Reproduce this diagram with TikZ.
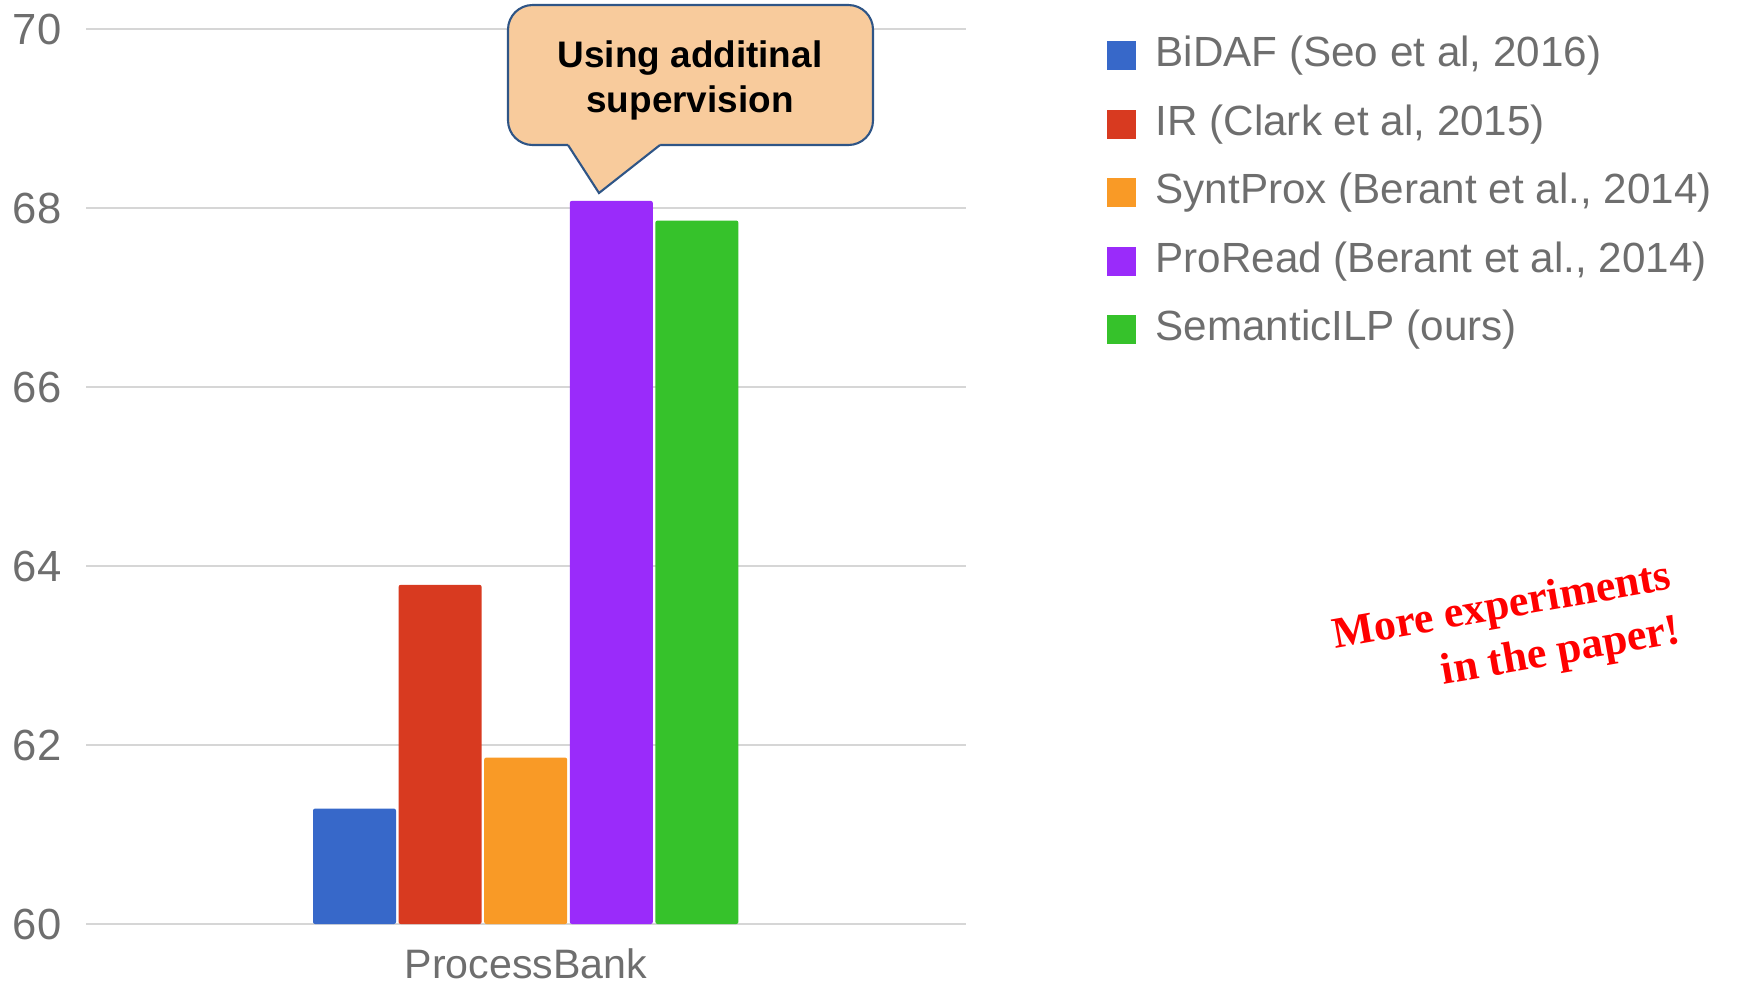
\documentclass[tikz,border=0pt]{standalone}
\usepackage{fontspec}
\setmainfont{Liberation Sans}
\newfontfamily\paperfont{Liberation Serif}
\usetikzlibrary{positioning}

\definecolor{cBidaf}{HTML}{3768C9}
\definecolor{cIr}{HTML}{D83A20}
\definecolor{cSynt}{HTML}{F99A26}
\definecolor{cProread}{HTML}{9A2BFA}
\definecolor{cSilp}{HTML}{36C22B}
\definecolor{gridgray}{HTML}{D6D6D6}
\definecolor{axisgray}{HTML}{6E6E6E}
\definecolor{notefill}{HTML}{F8CB9C}
\definecolor{noteline}{HTML}{2F5586}

\begin{document}
\begin{tikzpicture}[x=0.01cm, y=-0.01cm,
        gridline/.style={draw=gridgray, line width=0.5pt},
        ticklabel/.style={anchor=east, inner sep=0pt, text=axisgray, font=\fontsize{12.4}{14}\selectfont},
        keytext/.style={anchor=west, inner sep=0pt, text=axisgray, font=\fontsize{12}{14}\selectfont},
        notebox/.style={fill=notefill, draw=noteline, line width=0.6pt}
    ]
    \useasboundingbox (0,0) rectangle (1737,984);

    % --- axis and grid ---
    \foreach \v [count=\i from 0] in {60,62,...,70} {
        \pgfmathsetmacro{\yy}{924-\i*179}
        \draw[gridline] (86,\yy) -- (966,\yy);
        \node[ticklabel] (tick\v) at (62,\yy) {\v};
    }

    % --- bars ---
    \foreach \c/\v [count=\i from 0] in {cBidaf/61.29, cIr/63.79, cSynt/61.86, cProread/68.08, cSilp/67.86} {
        \pgfmathsetmacro{\xx}{313+\i*85.6}
        \pgfmathsetmacro{\top}{924-(\v-60)*89.5}
        \fill[\c, rounded corners=0.6pt] (\xx,924) rectangle ({\xx+83},\top);
    }
    \node[text=axisgray, font=\fontsize{11.7}{14}\selectfont] (group) at (526,964) {ProcessBank};

    % --- callout ---
    \coordinate (tip) at (599,193);
    \draw[notebox, rounded corners=7pt] (508,5) rectangle (873,145);
    \fill[notefill] (568,140) -- (568,145) -- (tip) -- (660,145) -- (660,140) -- cycle;
    \draw[draw=noteline, line width=0.6pt] (568,145) -- (tip) -- (660,145);
    \node[align=center, font=\fontsize{10.5}{12.8}\selectfont\bfseries] (note) at (690,80)
        {Using additinal\\supervision};

    % --- legend ---
    \foreach \c/\t [count=\i from 0] in {cBidaf/{BiDAF (Seo et al, 2016)},
            cIr/{IR (Clark et al, 2015)},
            cSynt/{SyntProx (Berant et al., 2014)},
            cProread/{ProRead (Berant et al., 2014)},
            cSilp/{SemanticILP (ours)}} {
        \pgfmathsetmacro{\yy}{55.5+\i*68.6}
        \fill[\c] (1107,\yy-14.5) rectangle +(29,29);
        \node[keytext] (key\i) at (1155,\yy) {\t};
    }

    % --- remark ---
    \node[rotate=10, align=right, text=red, font=\paperfont\bfseries\fontsize{12.5}{15.5}\selectfont] (remark) at (1507,635)
        {More experiments\\in the paper!};
\end{tikzpicture}
\end{document}
